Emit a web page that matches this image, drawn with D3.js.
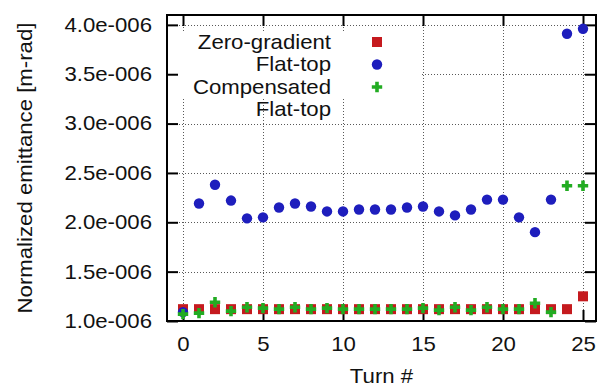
<!DOCTYPE html>
<html>
<head>
<meta charset="utf-8">
<script src="https://cdn.jsdelivr.net/npm/d3@7"></script>
<style>
  html, body { margin: 0; padding: 0; background: #fff; }
  svg { display: block; }
  text { font-family: "Liberation Sans", Arial, Helvetica, sans-serif; fill: #111; }
</style>
</head>
<body>
<svg id="chart" width="600" height="386"></svg>
<script>
// ---- data ----
const turns = d3.range(0, 26);
const zeroGradient = [1.12,1.12,1.12,1.12,1.12,1.12,1.12,1.12,1.12,1.12,1.12,1.12,1.12,1.12,1.12,1.12,1.12,1.12,1.12,1.12,1.12,1.12,1.12,1.12,1.12,1.25].map(v => v * 1e-6);
const flatTop = [1.09,2.19,2.38,2.22,2.04,2.05,2.15,2.19,2.16,2.11,2.11,2.13,2.13,2.13,2.15,2.16,2.11,2.07,2.13,2.23,2.23,2.05,1.90,2.23,3.91,3.96].map(v => v * 1e-6);
const compensated = [1.07,1.08,1.19,1.10,1.14,1.13,1.12,1.14,1.12,1.13,1.12,1.12,1.12,1.12,1.12,1.13,1.11,1.14,1.11,1.14,1.12,1.12,1.18,1.09,2.37,2.37].map(v => v * 1e-6);
const xTicks = [0, 5, 10, 15, 20, 25];
const yTicks = [1.0e-6, 1.5e-6, 2.0e-6, 2.5e-6, 3.0e-6, 3.5e-6, 4.0e-6];
const seriesNames = ["Zero-gradient", "Flat-top", "Compensated"];
const xLabel = "Turn #";
const yLabel = "Normalized emittance [m-rad]";

// ---- layout ----
const L = 167, R = 596, T = 15, B = 321;
const FS = 20, SX = 1.11;
const colors = { red: "#c51a1e", blue: "#1e1ebd", green: "#22ac22" };

const svg = d3.select("#chart");
const x = d3.scaleLinear().domain([-1, 25.8125]).range([L, R]);
const y = d3.scaleLinear().domain([1.0e-6, 4.1e-6]).range([B, T]);

const fmt = v => (v / 1e-6).toFixed(1) + "e-006";

function stretch(sel) {
  sel.each(function () {
    const t = d3.select(this);
    const tx = +t.attr("x") || 0, ty = +t.attr("y") || 0;
    t.attr("transform", `translate(${tx},${ty}) scale(${SX},1) translate(${-tx},${-ty})`);
  });
}

// ---- grid ----
const grid = svg.append("g").attr("stroke", "#222").attr("stroke-width", 1)
  .attr("stroke-dasharray", "1,2").attr("opacity", 0.75);
grid.selectAll("line.v").data(xTicks).join("line")
  .attr("x1", d => x(d) + 0.5).attr("x2", d => x(d) + 0.5)
  .attr("y1", T).attr("y2", B);
grid.selectAll("line.h").data(yTicks).join("line")
  .attr("x1", L).attr("x2", R)
  .attr("y1", d => Math.round(y(d)) + 0.5).attr("y2", d => Math.round(y(d)) + 0.5);

// ---- legend box (opaque, covers grid) ----
svg.append("rect").attr("x", L + 1).attr("y", 31).attr("width", 420 - L - 1).attr("height", 67).attr("fill", "#fff");

// ---- axes ----
const tickLen = 11;
const axB = svg.append("g").attr("transform", `translate(0,${B})`)
  .call(d3.axisBottom(x).tickValues(xTicks).tickSize(-tickLen).tickPadding(16).tickFormat(d3.format("d")));
const axT = svg.append("g").attr("transform", `translate(0,${T})`)
  .call(d3.axisTop(x).tickValues(xTicks).tickSize(-tickLen).tickFormat(""));
const axL = svg.append("g").attr("transform", `translate(${L},0)`)
  .call(d3.axisLeft(y).tickValues(yTicks).tickSize(-tickLen).tickPadding(15).tickFormat(fmt));
const axR = svg.append("g").attr("transform", `translate(${R},0)`)
  .call(d3.axisRight(y).tickValues(yTicks).tickSize(-tickLen).tickFormat(""));

[axB, axT, axL, axR].forEach(a => {
  a.select(".domain").remove();
  a.selectAll(".tick line").attr("stroke", "#000").attr("stroke-width", 2);
  a.selectAll("text").attr("font-size", FS).attr("font-family", '"Liberation Sans", Arial, sans-serif').attr("fill", "#111");
});
axB.selectAll(".tick text").attr("dy", "0.71em").call(stretch);
axL.selectAll(".tick text").call(stretch);

// ---- frame ----
svg.append("rect").attr("x", L).attr("y", T).attr("width", R - L).attr("height", B - T)
  .attr("fill", "none").attr("stroke", "#000").attr("stroke-width", 2);

// ---- axis titles ----
svg.append("text").attr("x", (L + R) / 2).attr("y", 383).attr("text-anchor", "middle")
  .attr("font-size", FS).text(xLabel).call(stretch);
svg.append("text")
  .attr("transform", `translate(32,${(T + B) / 2}) rotate(-90) scale(${SX},1)`)
  .attr("text-anchor", "middle").attr("font-size", FS).text(yLabel);

// ---- markers ----
const sq = 10, cr = 5.2, pl = 5.2;
const plusPath = (cx, cy, s) => `M${cx - s},${cy}H${cx + s}M${cx},${cy - s}V${cy + s}`;

const pts = svg.append("g");
pts.selectAll("rect.zg").data(turns).join("rect")
  .attr("x", d => x(d) - sq / 2).attr("y", (d, i) => y(zeroGradient[i]) - sq / 2)
  .attr("width", sq).attr("height", sq).attr("fill", colors.red);
pts.selectAll("circle.ft").data(turns).join("circle")
  .attr("cx", d => x(d)).attr("cy", (d, i) => y(flatTop[i])).attr("r", cr)
  .attr("fill", colors.blue);
pts.selectAll("path.cf").data(turns).join("path")
  .attr("d", (d, i) => plusPath(x(d), y(compensated[i]), pl))
  .attr("stroke", colors.green).attr("stroke-width", 3.6).attr("fill", "none");

// ---- legend ----
const legX = 331, symX = 377;
const rows = [49, 71.5, 94];
const lg = svg.append("g");
seriesNames.forEach((n, i) => {
  lg.append("text").attr("x", legX).attr("y", rows[i]).attr("text-anchor", "end")
    .attr("font-size", FS).text(n).call(stretch);
});
lg.append("text").attr("x", legX).attr("y", 116).attr("text-anchor", "end")
  .attr("font-size", FS).text("Flat-top").call(stretch);
const cy = r => r - 7;
lg.append("rect").attr("x", symX - sq / 2).attr("y", cy(rows[0]) - sq / 2).attr("width", sq).attr("height", sq).attr("fill", colors.red);
lg.append("circle").attr("cx", symX).attr("cy", cy(rows[1])).attr("r", cr).attr("fill", colors.blue);
lg.append("path").attr("d", plusPath(symX, cy(rows[2]), pl)).attr("stroke", colors.green).attr("stroke-width", 3.6);
</script>
</body>
</html>
